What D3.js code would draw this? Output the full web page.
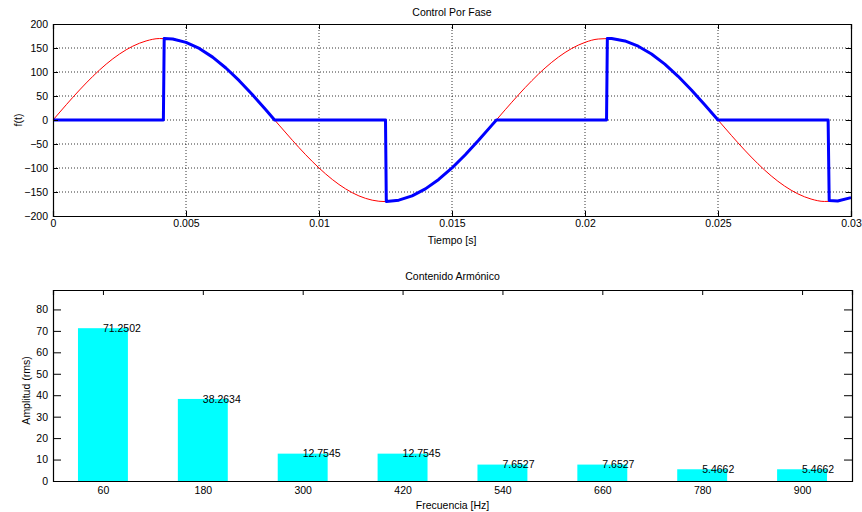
<!DOCTYPE html>
<html>
<head>
<meta charset="utf-8">
<script src="https://cdn.jsdelivr.net/npm/d3@7/dist/d3.min.js"></script>
<style>
  body { margin: 0; background: #fff; }
  text { font-family: "Liberation Sans", Arial, sans-serif; fill: #000; }
</style>
</head>
<body>
<div id="chart"></div>
<script>
// red reference sine, sampled every 0.0005 s
const redT = d3.range(61).map(i => i * 0.0005);
const redV = [0, 31.9, 62.6, 91.1, 116.4, 137.5, 153.8, 164.7, 169.7, 168.7,
  161.7, 149.0, 131.0, 108.4, 81.9, 52.5, 21.3, -10.7, -42.3, -72.4,
  -99.9, -123.9, -143.5, -158.1, -167.0, -170.0, -167.0, -158.1, -143.5, -123.9,
  -99.9, -72.4, -42.3, -10.7, 21.3, 52.5, 81.9, 108.4, 131.0, 149.0,
  161.7, 168.7, 169.7, 164.7, 153.8, 137.5, 116.4, 91.1, 62.6, 31.9,
  0, -31.9, -62.6, -91.1, -116.4, -137.5, -153.8, -164.7, -169.7, -168.7, -161.7];

// blue phase-controlled output
const blueT = [0, 0.00415, 0.00418, 0.0045, 0.005, 0.0055, 0.006, 0.0065, 0.007, 0.0075, 0.008, 0.00833,
  0.0125, 0.01253, 0.013, 0.0135, 0.014, 0.0145, 0.015, 0.0155, 0.016, 0.0165, 0.01667,
  0.02081, 0.02084, 0.021, 0.0215, 0.022, 0.0225, 0.023, 0.0235, 0.024, 0.0245, 0.025,
  0.02914, 0.02918, 0.0295, 0.03];
const blueV = [0, 0, 170, 168.7, 161.7, 149.0, 131.0, 108.4, 81.9, 52.5, 21.3, 0,
  0, -170, -167.0, -158.1, -143.5, -123.9, -99.9, -72.4, -42.3, -10.7, 0,
  0, 170, 169.7, 164.7, 153.8, 137.5, 116.4, 91.1, 62.6, 31.9, 0,
  0, -167.5, -168.7, -161.7];

const xTicksTop = [0, 0.005, 0.01, 0.015, 0.02, 0.025, 0.03];
const yTicksTop = [-200, -150, -100, -50, 0, 50, 100, 150, 200];

// harmonic content
const freqs = ["60", "180", "300", "420", "540", "660", "780", "900"];
const amps = [71.2502, 38.2634, 12.7545, 12.7545, 7.6527, 7.6527, 5.4662, 5.4662];
const ampLabels = ["71.2502", "38.2634", "12.7545", "12.7545", "7.6527", "7.6527", "5.4662", "5.4662"];
const yTicksBot = [0, 10, 20, 30, 40, 50, 60, 70, 80];

const W = 862, H = 512, fs = "10.5px";
const svg = d3.select("#chart").append("svg").attr("width", W).attr("height", H);

function frame(g, x, y, top, bottom, left, right) {
  // box and inward ticks on all four sides, like the original plot
  g.append("g").attr("transform", `translate(0,${bottom})`)
    .call(d3.axisBottom(x.scale).tickValues(x.ticks).tickSize(-x.tickBottom).tickFormat(x.fmt).tickPadding(x.pad))
    .call(a => a.selectAll("text").style("font-size", fs));
  g.append("g").attr("transform", `translate(0,${top})`)
    .call(d3.axisTop(x.scale).tickValues(x.ticks).tickSize(-x.tick).tickFormat(""));
  g.append("g").attr("transform", `translate(${left},0)`)
    .call(d3.axisLeft(y.scale).tickValues(y.ticks).tickSize(-y.tick).tickFormat(d3.format("d")).tickPadding(5))
    .call(a => a.selectAll("text").style("font-size", fs));
  g.append("g").attr("transform", `translate(${right},0)`)
    .call(d3.axisRight(y.scale).tickValues(y.ticks).tickSize(-y.tick).tickFormat(""));
  g.selectAll(".domain").attr("stroke", "#000").attr("stroke-width", 1.2);
  g.selectAll(".tick line").attr("stroke", "#000");
  g.selectAll("text").attr("fill", "#000").style("font-family", "Liberation Sans, Arial, sans-serif");
}

// ---------- top chart ----------
const t = { left: 53, right: 851, top: 24, bottom: 216 };
const x1 = d3.scaleLinear().domain([0, 0.03]).range([t.left, t.right]);
const y1 = d3.scaleLinear().domain([-200, 200]).range([t.bottom, t.top]);
const g1 = svg.append("g");

// grid
g1.append("g").selectAll("line").data(xTicksTop.slice(1, -1)).join("line")
  .attr("x1", d => x1(d)).attr("x2", d => x1(d)).attr("y1", t.top).attr("y2", t.bottom)
  .attr("stroke", "#000").attr("stroke-width", 0.8).attr("stroke-dasharray", "1,2");
g1.append("g").selectAll("line").data(yTicksTop.slice(1, -1)).join("line")
  .attr("x1", t.left).attr("x2", t.right).attr("y1", d => y1(d)).attr("y2", d => y1(d))
  .attr("stroke", "#000").attr("stroke-width", 0.8).attr("stroke-dasharray", "1,2");

g1.append("path").datum(d3.zip(redT, redV))
  .attr("d", d3.line().x(d => x1(d[0])).y(d => y1(d[1])).curve(d3.curveMonotoneX))
  .attr("fill", "none").attr("stroke", "#ff0000").attr("stroke-width", 1);
g1.append("path").datum(d3.zip(blueT, blueV))
  .attr("d", d3.line().x(d => x1(d[0])).y(d => y1(d[1])))
  .attr("fill", "none").attr("stroke", "#0000ff").attr("stroke-width", 3).attr("stroke-linejoin", "round");

frame(g1, { scale: x1, ticks: xTicksTop, tick: 5, tickBottom: 5, fmt: d => d === 0 ? "0" : String(+d.toFixed(3)), pad: 4 },
  { scale: y1, ticks: yTicksTop, tick: 5 }, t.top, t.bottom, t.left, t.right);

g1.append("text").attr("x", (t.left + t.right) / 2).attr("y", 16).attr("text-anchor", "middle")
  .style("font-size", fs).text("Control Por Fase");
g1.append("text").attr("x", (t.left + t.right) / 2).attr("y", 244).attr("text-anchor", "middle")
  .style("font-size", fs).text("Tiempo [s]");
g1.append("text").attr("transform", `translate(22,${(t.top + t.bottom) / 2}) rotate(-90)`)
  .attr("text-anchor", "middle").style("font-size", fs).text("f(t)");

// ---------- bottom chart ----------
const b = { left: 53, right: 852, top: 290, bottom: 481 };
const x2 = d3.scalePoint().domain(freqs).range([b.left, b.right]).padding(0.5);
const y2 = d3.scaleLinear().domain([0, 89.06]).range([b.bottom, b.top]);
const bw = x2.step() / 2;
const g2 = svg.append("g");

const bars = d3.zip(freqs, amps, ampLabels);
g2.append("g").selectAll("rect").data(bars).join("rect")
  .attr("x", d => x2(d[0]) - bw / 2).attr("width", bw)
  .attr("y", d => y2(d[1])).attr("height", d => y2(0) - y2(d[1]))
  .attr("fill", "#00ffff");

frame(g2, { scale: x2, ticks: freqs, tick: 5, tickBottom: 0, fmt: d => d, pad: 6 },
  { scale: y2, ticks: yTicksBot, tick: 8 }, b.top, b.bottom, b.left, b.right);

g2.append("g").selectAll("text.val").data(bars).join("text").attr("class", "val")
  .attr("x", d => x2(d[0])).attr("y", d => y2(d[1]))
  .attr("dy", "0.35em").style("font-size", fs).text(d => d[2]);

g2.append("text").attr("x", (b.left + b.right) / 2).attr("y", 280).attr("text-anchor", "middle")
  .style("font-size", fs).text("Contenido Armónico");
g2.append("text").attr("x", (b.left + b.right) / 2).attr("y", 509).attr("text-anchor", "middle")
  .style("font-size", fs).text("Frecuencia [Hz]");
g2.append("text").attr("transform", `translate(30,${(b.top + b.bottom) / 2 + 5}) rotate(-90)`)
  .attr("text-anchor", "middle").style("font-size", fs).text("Amplitud (rms)");
</script>
</body>
</html>
